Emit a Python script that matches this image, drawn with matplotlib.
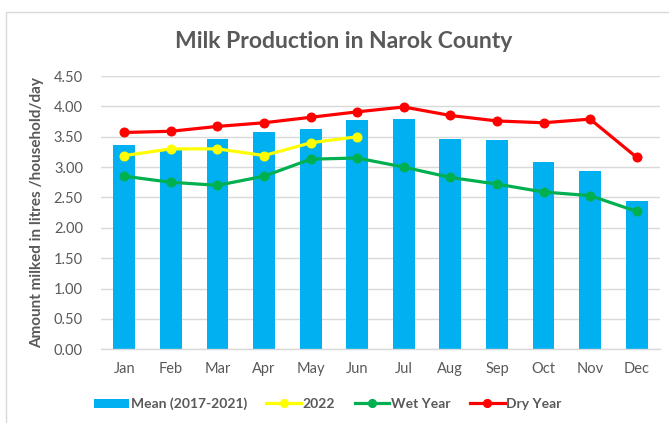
import matplotlib
matplotlib.use("Agg")
import matplotlib.pyplot as plt
from matplotlib.patches import Rectangle

months = ["Jan", "Feb", "Mar", "Apr", "May", "Jun", "Jul", "Aug", "Sep", "Oct", "Nov", "Dec"]
mean_2017_2021 = [3.36, 3.28, 3.46, 3.57, 3.62, 3.78, 3.80, 3.46, 3.45, 3.08, 2.93, 2.44]
year_2022 = [3.19, 3.30, 3.30, 3.19, 3.40, 3.50]
wet_year = [2.85, 2.75, 2.70, 2.85, 3.13, 3.15, 3.00, 2.83, 2.72, 2.59, 2.53, 2.27]
dry_year = [3.57, 3.59, 3.67, 3.73, 3.82, 3.91, 3.99, 3.85, 3.76, 3.73, 3.79, 3.16]
yticks = [0.0, 0.5, 1.0, 1.5, 2.0, 2.5, 3.0, 3.5, 4.0, 4.5]

plt.rcParams["font.family"] = ["Lato", "DejaVu Sans"]
grey = "#595959"

fig = plt.figure(figsize=(6.69, 4.23), dpi=100)
ax = fig.add_axes([101 / 669, 1 - 349.3 / 423, (660 - 101) / 669, (349.3 - 76) / 423])

x = list(range(len(months)))
h_bar = ax.bar(x, mean_2017_2021, width=0.47, color="#00B0F0", label="Mean (2017-2021)", zorder=2)
lw, ms = 2.3, 6.2
h_22, = ax.plot(x[:len(year_2022)], year_2022, color="#FFFF00", lw=lw, marker="o", ms=ms, label="2022", zorder=4)
h_wet, = ax.plot(x, wet_year, color="#00B050", lw=lw, marker="o", ms=ms, label="Wet Year", zorder=3)
h_dry, = ax.plot(x, dry_year, color="#FF0000", lw=lw, marker="o", ms=ms, label="Dry Year", zorder=3)

ax.set_xlim(-0.5, len(months) - 0.5)
ax.set_ylim(0, 4.5)
ax.set_yticks(yticks)
ax.set_yticklabels([f"{v:.2f}" for v in yticks])
ax.set_xticks(x)
ax.set_xticklabels(months)
ax.grid(axis="y", color="#D9D9D9", lw=1.0, zorder=0)
ax.set_axisbelow(True)
for s in ["top", "right", "left"]:
    ax.spines[s].set_visible(False)
ax.spines["bottom"].set_color("#D9D9D9")
ax.spines["bottom"].set_linewidth(1.0)
ax.tick_params(axis="both", length=0, colors=grey, labelsize=10.5)
ax.tick_params(axis="y", pad=13)
ax.tick_params(axis="x", pad=9)

ax.set_ylabel("Amount milked in litres /household/day", color=grey, fontsize=11,
              fontweight="bold", labelpad=7)

fig.text(344 / 669, 1 - 42 / 423, "Milk Production in Narok County", ha="center", va="center",
         fontsize=16.5, fontweight="bold", color=grey)

leg = ax.legend(handles=[h_bar, h_22, h_wet, h_dry], loc="center",
                bbox_to_anchor=(328 / 669, 1 - 404 / 423), bbox_transform=fig.transFigure,
                ncol=4, frameon=False, fontsize=10, handlelength=2.5, handleheight=0.65,
                columnspacing=1.4, handletextpad=0.12, markerscale=0.9)
for t in leg.get_texts():
    t.set_color(grey)
    t.set_fontweight("bold")

fig.patches.append(Rectangle((6.5 / 669, -0.05), 2.0, 1 - 12.5 / 423 + 0.05, transform=fig.transFigure,
                             fill=False, edgecolor="#D9D9D9", lw=1.0))

fig.savefig("out.png", dpi=100)
